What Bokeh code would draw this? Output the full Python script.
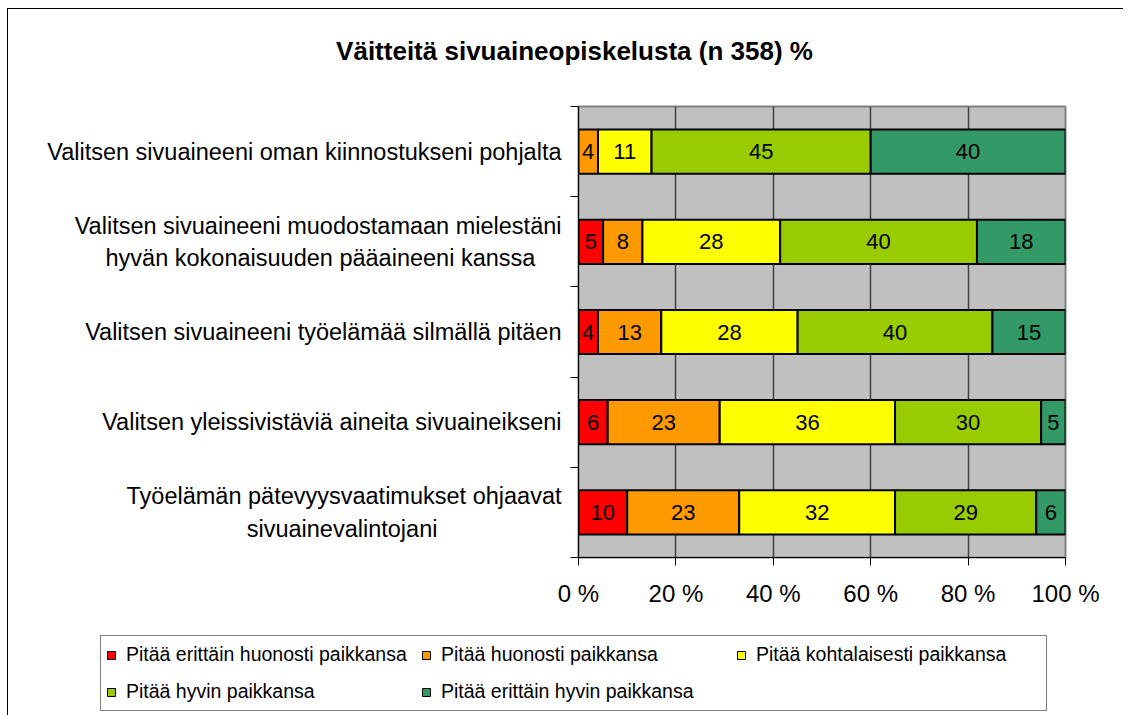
from bokeh.plotting import figure
from bokeh.models import ColumnDataSource, Range1d, FixedTicker, Legend, LegendItem, Label
from bokeh.core.properties import value
from bokeh.embed import file_html
from bokeh.resources import INLINE

# ---------------- data ----------------
chart_title = "Väitteitä sivuaineopiskelusta (n 358) %"
categories = [
    "Valitsen sivuaineeni oman kiinnostukseni pohjalta",
    "Valitsen sivuaineeni muodostamaan mielestäni\nhyvän kokonaisuuden pääaineeni kanssa",
    "Valitsen sivuaineeni työelämää silmällä pitäen",
    "Valitsen yleissivistäviä aineita sivuaineikseni",
    "Työelämän pätevyysvaatimukset ohjaavat\nsivuainevalintojani",
]
series_names = [
    "Pitää erittäin huonosti paikkansa",
    "Pitää huonosti paikkansa",
    "Pitää kohtalaisesti paikkansa",
    "Pitää hyvin paikkansa",
    "Pitää erittäin hyvin paikkansa",
]
erittain_huonosti = [0, 5, 4, 6, 10]
huonosti = [4, 8, 13, 23, 23]
kohtalaisesti = [11, 28, 28, 36, 32]
hyvin = [45, 40, 40, 30, 29]
erittain_hyvin = [40, 18, 15, 5, 6]
series_colors = ["#FF0000", "#FF9900", "#FFFF00", "#99CC00", "#339966"]
x_ticks = [0, 20, 40, 60, 80, 100]
x_tick_labels = ["0 %", "20 %", "40 %", "60 %", "80 %", "100 %"]

series_values = [erittain_huonosti, huonosti, kohtalaisesti, hyvin, erittain_hyvin]

# ---------------- layout ----------------
FONT = "Liberation Sans"
W = 1128
H_TITLE, H_MAIN, H_LEG = 105, 525, 85
BL, BR, BT, BB = 578, 63, 1, 73
CAT_PX = 23.5

# approximate Liberation Sans (Arial metric) advances, only used to centre the
# lines of multi-line category labels (axis labels are right-aligned per line)
_ADV = {" ": 278, "T": 611, "V": 667, "a": 556, "d": 556, "e": 556, "h": 556,
        "i": 222, "j": 222, "k": 500, "l": 222, "m": 833, "n": 556, "o": 556,
        "p": 556, "s": 500, "t": 278, "u": 556, "v": 500, "y": 500, "ä": 556,
        "ö": 556}


def centre_lines(label):
    lines = label.split("\n")
    widths = [sum(_ADV.get(c, 556) for c in ln) for ln in lines]
    wmax = max(widths)
    return "\n".join(ln + "\u00a0" * int(round((wmax - w) / 2 / 278))
                     for ln, w in zip(lines, widths))


def strip(height, styles):
    f = figure(width=W, height=height, x_range=Range1d(0, 100), y_range=Range1d(0, 1),
               output_backend="svg", toolbar_location=None,
               x_axis_location=None, y_axis_location=None,
               min_border_left=0, min_border_right=0, min_border_top=0, min_border_bottom=0)
    f.styles = styles
    f.border_fill_alpha = 0
    f.background_fill_alpha = 0
    f.outline_line_color = None
    f.grid.visible = False
    return f


n = len(categories)
y_pos = [n - i - 0.5 for i in range(n)]
boundaries = list(range(n + 1))
totals = [sum(s[i] for s in series_values) for i in range(n)]

# ---------------- title strip ----------------
pt = strip(H_TITLE, {"background": "linear-gradient(#000, #000) 7px 8px / 1px 100% no-repeat, "
                                   "linear-gradient(#000, #000) 7px 8px / 1116px 1px no-repeat, #fff"})
pt.add_layout(Label(x=574, y=H_TITLE - 50, x_units="screen", y_units="screen",
                    text=chart_title, text_align="center", text_baseline="middle",
                    text_font=FONT, text_font_size="26px", text_font_style="bold",
                    text_color="black"))

# ---------------- main plot ----------------
p = figure(width=W, height=H_MAIN, x_range=Range1d(0, 100), y_range=Range1d(0, n),
           output_backend="svg", toolbar_location=None,
           min_border_left=BL, min_border_right=BR, min_border_top=BT, min_border_bottom=BB)
p.styles = {"background": "linear-gradient(#000, #000) 7px 0 / 1px 100% no-repeat, #fff"}
p.border_fill_alpha = 0
p.background_fill_color = "#C0C0C0"
p.outline_line_color = "#808080"
p.outline_line_width = 2

# grid
p.ygrid.visible = False
p.xgrid.ticker = FixedTicker(ticks=x_ticks[1:-1])
p.xgrid.grid_line_color = "#404040"
p.xgrid.grid_line_width = 1.5

# x axis
xa = p.xaxis[0]
xa.ticker = FixedTicker(ticks=x_ticks)
xa.major_label_overrides = dict(zip(x_ticks, x_tick_labels))
xa.major_label_text_font = FONT
xa.major_label_text_font_size = "24px"
xa.major_label_text_color = "black"
xa.major_label_standoff = 14
xa.major_tick_out = 8
xa.major_tick_in = 0
xa.minor_tick_out = 0
xa.axis_line_color = "black"
xa.major_tick_line_color = "black"

# y axis: category labels at row centres, tick marks between rows
ya = p.yaxis[0]
ya.ticker = FixedTicker(ticks=y_pos, minor_ticks=boundaries)
ya.major_label_overrides = {y: centre_lines(c) for y, c in zip(y_pos, categories)}
ya.major_label_text_font = FONT
ya.major_label_text_font_size = f"{CAT_PX}px"
ya.major_label_text_color = "black"
ya.major_label_text_line_height = 1.25
ya.major_label_standoff = 9
ya.major_tick_out = 0
ya.major_tick_in = 0
ya.minor_tick_out = 8
ya.minor_tick_in = 0
ya.axis_line_color = "black"
ya.minor_tick_line_color = "black"

# ---------------- legend strip ----------------
pl = strip(H_LEG, {"background": "linear-gradient(#000, #000) 7px 0 / 1px 100% no-repeat, #fff"})
pl.y_range = Range1d(n + 10, n + 11)   # keyed series lie outside this strip's view

# stacked, normalised bars
cum = [0.0] * n
items = []
for name, vals, col in zip(series_names, series_values, series_colors):
    left = list(cum)
    right = [cum[i] + vals[i] / totals[i] * 100.0 for i in range(n)]
    cum = right
    keep = [i for i in range(n) if vals[i] > 0]
    src = ColumnDataSource(dict(
        y=[y_pos[i] for i in keep],
        left=[left[i] for i in keep],
        right=[right[i] for i in keep],
        xc=[(left[i] + right[i]) / 2 for i in keep],
        txt=[str(vals[i]) for i in keep],
    ))
    p.hbar(y="y", left="left", right="right", height=0.49, source=src,
           fill_color=col, line_color="black", line_width=2)
    p.text(x="xc", y="y", text="txt", source=src, text_align="center",
           text_baseline="middle", text_font=value(FONT), text_font_size="22px",
           text_color="black")
    r = pl.hbar(y="y", left="left", right="right", height=0.49, source=src,
                fill_color=col, line_color="black", line_width=1)
    items.append(LegendItem(label=name, renderers=[r]))

legend = Legend(items=items, location=(100, 4), orientation="horizontal", ncols=3,
                label_text_font=FONT, label_text_font_size="19.5px",
                label_text_color="black",
                glyph_width=10, glyph_height=10, label_standoff=10, spacing=10,
                padding=5, margin=0, label_width=285, label_height=27,
                border_line_color="black", border_line_width=1,
                background_fill_color="white", background_fill_alpha=1.0)
pl.add_layout(legend, "center")

open("out.html", "w").write(file_html([pt, p, pl], INLINE, title=chart_title))
